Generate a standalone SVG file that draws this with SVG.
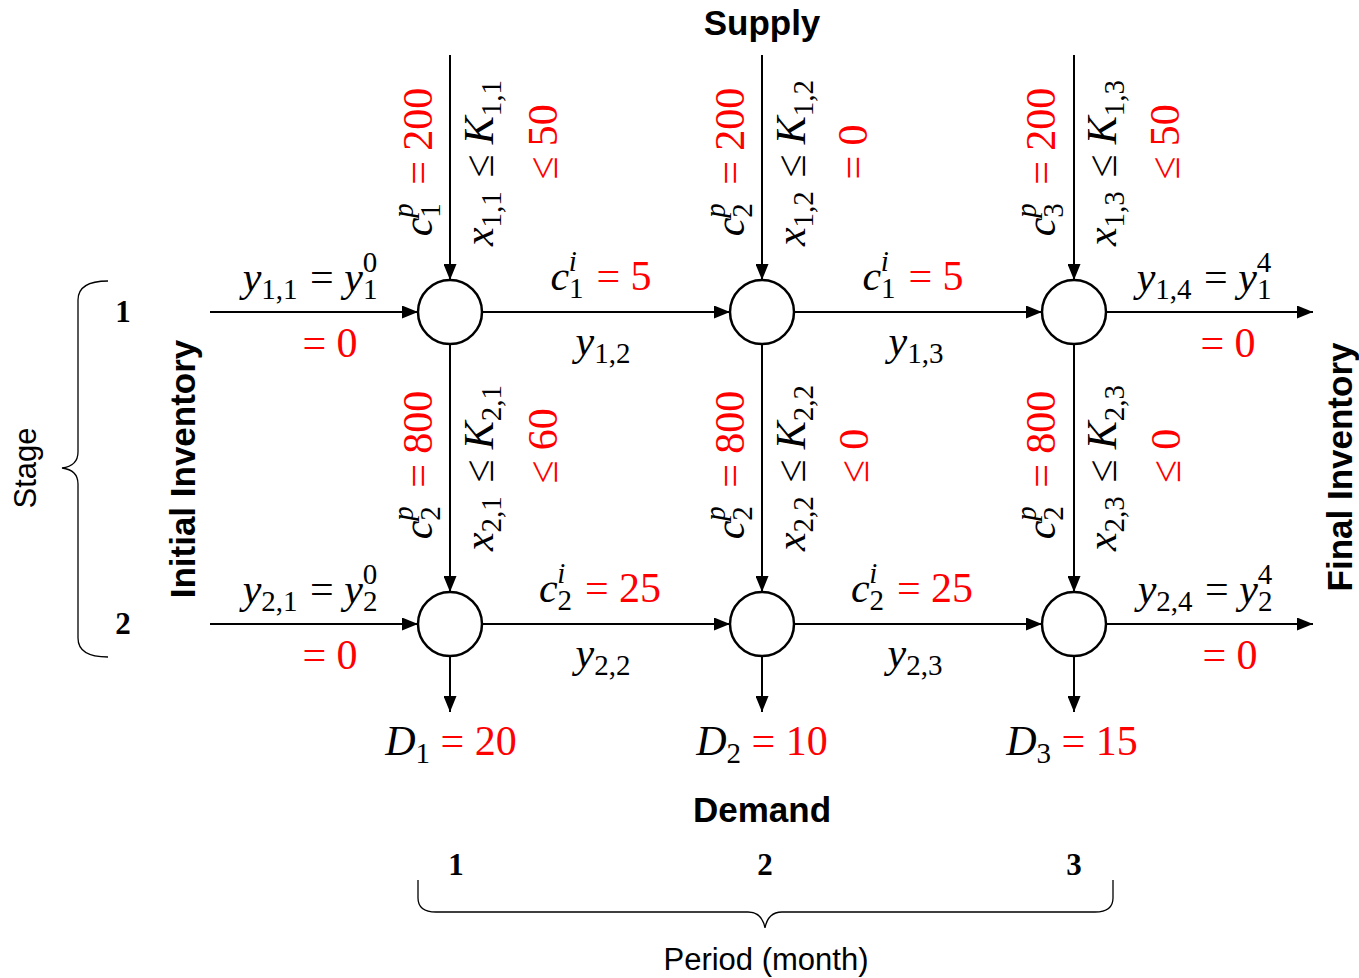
<svg xmlns="http://www.w3.org/2000/svg" width="1359" height="978" viewBox="0 0 1359 978">
<style>
.m{font-family:"Liberation Serif","Times New Roman",serif;font-size:42px;fill:#000}
.i{font-style:italic}
.s{font-size:29px}
.r{fill:#ff0000}
.ln{stroke:#000;stroke-width:2;fill:none}
.nd{stroke:#000;stroke-width:2.5;fill:#fff}
.hb{font-family:"Liberation Sans",Arial,sans-serif;font-weight:bold;font-size:35px;fill:#000}
.hr{font-family:"Liberation Sans",Arial,sans-serif;font-size:31px;fill:#000}
.num{font-family:"Liberation Serif","Times New Roman",serif;font-weight:bold;font-size:31px;fill:#000}
.br{stroke:#000;stroke-width:1.3;fill:none}
</style>
<defs>
<marker id="ah" markerWidth="16" markerHeight="13" refX="16" refY="6.5" orient="auto" markerUnits="userSpaceOnUse">
<path d="M0,0 L16,6.5 L0,13 Z" fill="#000"/>
</marker>
</defs>
<rect width="1359" height="978" fill="#fff"/>

<g id="connectors">
<line class="ln" x1="450" y1="55" x2="450" y2="280" marker-end="url(#ah)"/>
<line class="ln" x1="762" y1="55" x2="762" y2="280" marker-end="url(#ah)"/>
<line class="ln" x1="1074" y1="55" x2="1074" y2="280" marker-end="url(#ah)"/>
<line class="ln" x1="450" y1="344" x2="450" y2="592" marker-end="url(#ah)"/>
<line class="ln" x1="762" y1="344" x2="762" y2="592" marker-end="url(#ah)"/>
<line class="ln" x1="1074" y1="344" x2="1074" y2="592" marker-end="url(#ah)"/>
<line class="ln" x1="450" y1="656" x2="450" y2="712" marker-end="url(#ah)"/>
<line class="ln" x1="762" y1="656" x2="762" y2="712" marker-end="url(#ah)"/>
<line class="ln" x1="1074" y1="656" x2="1074" y2="712" marker-end="url(#ah)"/>
<line class="ln" x1="210" y1="312" x2="418" y2="312" marker-end="url(#ah)"/>
<line class="ln" x1="482" y1="312" x2="730" y2="312" marker-end="url(#ah)"/>
<line class="ln" x1="794" y1="312" x2="1042" y2="312" marker-end="url(#ah)"/>
<line class="ln" x1="1106" y1="312" x2="1313" y2="312" marker-end="url(#ah)"/>
<line class="ln" x1="210" y1="624" x2="418" y2="624" marker-end="url(#ah)"/>
<line class="ln" x1="482" y1="624" x2="730" y2="624" marker-end="url(#ah)"/>
<line class="ln" x1="794" y1="624" x2="1042" y2="624" marker-end="url(#ah)"/>
<line class="ln" x1="1106" y1="624" x2="1313" y2="624" marker-end="url(#ah)"/>
</g>

<g id="n11"><circle class="nd" cx="450" cy="312" r="32"/></g>
<g id="n12"><circle class="nd" cx="762" cy="312" r="32"/></g>
<g id="n13"><circle class="nd" cx="1074" cy="312" r="32"/></g>
<g id="n21"><circle class="nd" cx="450" cy="624" r="32"/></g>
<g id="n22"><circle class="nd" cx="762" cy="624" r="32"/></g>
<g id="n23"><circle class="nd" cx="1074" cy="624" r="32"/></g>

<g id="headings">
<text class="hb" x="762" y="35" text-anchor="middle">Supply</text>
<text class="hb" x="762" y="822" text-anchor="middle">Demand</text>
<text class="hb" text-anchor="middle" transform="translate(195,469) rotate(-90)">Initial Inventory</text>
<text class="hb" text-anchor="middle" transform="translate(1352,467) rotate(-90)">Final Inventory</text>
<text class="hr" text-anchor="middle" transform="translate(36,468) rotate(-90)">Stage</text>
<text class="hr" x="766" y="970" text-anchor="middle">Period (month)</text>
<text class="num" x="123" y="322" text-anchor="middle">1</text>
<text class="num" x="123" y="634" text-anchor="middle">2</text>
<text class="num" x="456" y="875" text-anchor="middle">1</text>
<text class="num" x="765" y="875" text-anchor="middle">2</text>
<text class="num" x="1074" y="875" text-anchor="middle">3</text>
<path class="br" d="M108,281 Q78,281 78,300 L78,452 Q78,466 62,468 Q78,470 78,484 L78,638 Q78,657 108,657"/>
<path class="br" d="M418,880 L418,898 Q418,912 436,912 L748,912 Q762,912 765,928 Q768,912 782,912 L1095,912 Q1113,912 1113,898 L1113,880"/>
</g>

<g id="supply-labels">
<text class="m" text-anchor="middle" transform="translate(432,162) rotate(-90)"><tspan class="i">c</tspan><tspan class="s" dy="8">1</tspan><tspan class="s i" dx="-14.7" dy="-27">p</tspan><tspan class="r" dx="8" dy="19"> = 200</tspan></text>
<text class="m" text-anchor="middle" transform="translate(493,163) rotate(-90)"><tspan class="i">x</tspan><tspan class="s" dy="8">1,1</tspan><tspan dx="3" dy="-8"> ≤ </tspan><tspan class="i">K</tspan><tspan class="s" dy="8">1,1</tspan></text>
<text class="m r" text-anchor="middle" transform="translate(557,142) rotate(-90)">≤ 50</text>
<text class="m" text-anchor="middle" transform="translate(744,162) rotate(-90)"><tspan class="i">c</tspan><tspan class="s" dy="8">2</tspan><tspan class="s i" dx="-14.7" dy="-27">p</tspan><tspan class="r" dx="8" dy="19"> = 200</tspan></text>
<text class="m" text-anchor="middle" transform="translate(805,163) rotate(-90)"><tspan class="i">x</tspan><tspan class="s" dy="8">1,2</tspan><tspan dx="3" dy="-8"> ≤ </tspan><tspan class="i">K</tspan><tspan class="s" dy="8">1,2</tspan></text>
<text class="m r" text-anchor="middle" transform="translate(867,152) rotate(-90)">= 0</text>
<text class="m" text-anchor="middle" transform="translate(1055,162) rotate(-90)"><tspan class="i">c</tspan><tspan class="s" dy="8">3</tspan><tspan class="s i" dx="-14.7" dy="-27">p</tspan><tspan class="r" dx="8" dy="19"> = 200</tspan></text>
<text class="m" text-anchor="middle" transform="translate(1116,163) rotate(-90)"><tspan class="i">x</tspan><tspan class="s" dy="8">1,3</tspan><tspan dx="3" dy="-8"> ≤ </tspan><tspan class="i">K</tspan><tspan class="s" dy="8">1,3</tspan></text>
<text class="m r" text-anchor="middle" transform="translate(1179,142) rotate(-90)">≤ 50</text>
<text class="m" text-anchor="middle" transform="translate(432,465) rotate(-90)"><tspan class="i">c</tspan><tspan class="s" dy="8">2</tspan><tspan class="s i" dx="-14.7" dy="-27">p</tspan><tspan class="r" dx="8" dy="19"> = 800</tspan></text>
<text class="m" text-anchor="middle" transform="translate(493,468) rotate(-90)"><tspan class="i">x</tspan><tspan class="s" dy="8">2,1</tspan><tspan dx="3" dy="-8"> ≤ </tspan><tspan class="i">K</tspan><tspan class="s" dy="8">2,1</tspan></text>
<text class="m r" text-anchor="middle" transform="translate(557,446) rotate(-90)">≤ 60</text>
<text class="m" text-anchor="middle" transform="translate(744,465) rotate(-90)"><tspan class="i">c</tspan><tspan class="s" dy="8">2</tspan><tspan class="s i" dx="-14.7" dy="-27">p</tspan><tspan class="r" dx="8" dy="19"> = 800</tspan></text>
<text class="m" text-anchor="middle" transform="translate(805,468) rotate(-90)"><tspan class="i">x</tspan><tspan class="s" dy="8">2,2</tspan><tspan dx="3" dy="-8"> ≤ </tspan><tspan class="i">K</tspan><tspan class="s" dy="8">2,2</tspan></text>
<text class="m r" text-anchor="middle" transform="translate(868,456) rotate(-90)">≤ 0</text>
<text class="m" text-anchor="middle" transform="translate(1055,465) rotate(-90)"><tspan class="i">c</tspan><tspan class="s" dy="8">2</tspan><tspan class="s i" dx="-14.7" dy="-27">p</tspan><tspan class="r" dx="8" dy="19"> = 800</tspan></text>
<text class="m" text-anchor="middle" transform="translate(1116,468) rotate(-90)"><tspan class="i">x</tspan><tspan class="s" dy="8">2,3</tspan><tspan dx="3" dy="-8"> ≤ </tspan><tspan class="i">K</tspan><tspan class="s" dy="8">2,3</tspan></text>
<text class="m r" text-anchor="middle" transform="translate(1180,456) rotate(-90)">≤ 0</text>
</g>

<g id="inventory-labels">
<text class="m" x="310" y="291" text-anchor="middle"><tspan class="i">y</tspan><tspan class="s" dy="8">1,1</tspan><tspan dx="2" dy="-8"> = </tspan><tspan class="i">y</tspan><tspan class="s" dy="8">1</tspan><tspan class="s" dx="-14.7" dy="-27">0</tspan></text>
<text class="m r" x="330" y="357" text-anchor="middle">= 0</text>
<text class="m" x="601" y="290" text-anchor="middle"><tspan class="i">c</tspan><tspan class="s" dy="8">1</tspan><tspan class="s i" dx="-14.7" dy="-27">i</tspan><tspan class="r" dx="9" dy="19"> = 5</tspan></text>
<text class="m" x="603" y="355" text-anchor="middle"><tspan class="i">y</tspan><tspan class="s" dy="8">1,2</tspan></text>
<text class="m" x="913" y="290" text-anchor="middle"><tspan class="i">c</tspan><tspan class="s" dy="8">1</tspan><tspan class="s i" dx="-14.7" dy="-27">i</tspan><tspan class="r" dx="9" dy="19"> = 5</tspan></text>
<text class="m" x="916" y="355" text-anchor="middle"><tspan class="i">y</tspan><tspan class="s" dy="8">1,3</tspan></text>
<text class="m" x="1204" y="291" text-anchor="middle"><tspan class="i">y</tspan><tspan class="s" dy="8">1,4</tspan><tspan dx="2" dy="-8"> = </tspan><tspan class="i">y</tspan><tspan class="s" dy="8">1</tspan><tspan class="s" dx="-14.7" dy="-27">4</tspan></text>
<text class="m r" x="1228" y="357" text-anchor="middle">= 0</text>
<text class="m" x="310" y="603" text-anchor="middle"><tspan class="i">y</tspan><tspan class="s" dy="8">2,1</tspan><tspan dx="2" dy="-8"> = </tspan><tspan class="i">y</tspan><tspan class="s" dy="8">2</tspan><tspan class="s" dx="-14.7" dy="-27">0</tspan></text>
<text class="m r" x="330" y="669" text-anchor="middle">= 0</text>
<text class="m" x="600" y="602" text-anchor="middle"><tspan class="i">c</tspan><tspan class="s" dy="8">2</tspan><tspan class="s i" dx="-14.7" dy="-27">i</tspan><tspan class="r" dx="9" dy="19"> = 25</tspan></text>
<text class="m" x="603" y="667" text-anchor="middle"><tspan class="i">y</tspan><tspan class="s" dy="8">2,2</tspan></text>
<text class="m" x="912" y="602" text-anchor="middle"><tspan class="i">c</tspan><tspan class="s" dy="8">2</tspan><tspan class="s i" dx="-14.7" dy="-27">i</tspan><tspan class="r" dx="9" dy="19"> = 25</tspan></text>
<text class="m" x="915" y="667" text-anchor="middle"><tspan class="i">y</tspan><tspan class="s" dy="8">2,3</tspan></text>
<text class="m" x="1205" y="603" text-anchor="middle"><tspan class="i">y</tspan><tspan class="s" dy="8">2,4</tspan><tspan dx="2" dy="-8"> = </tspan><tspan class="i">y</tspan><tspan class="s" dy="8">2</tspan><tspan class="s" dx="-14.7" dy="-27">4</tspan></text>
<text class="m r" x="1230" y="669" text-anchor="middle">= 0</text>
</g>

<g id="demand-labels">
<text class="m" x="451" y="755" text-anchor="middle"><tspan class="i">D</tspan><tspan class="s" dy="8">1</tspan><tspan class="r" dy="-8"> = 20</tspan></text>
<text class="m" x="762" y="755" text-anchor="middle"><tspan class="i">D</tspan><tspan class="s" dy="8">2</tspan><tspan class="r" dy="-8"> = 10</tspan></text>
<text class="m" x="1072" y="755" text-anchor="middle"><tspan class="i">D</tspan><tspan class="s" dy="8">3</tspan><tspan class="r" dy="-8"> = 15</tspan></text>
</g>
</svg>
